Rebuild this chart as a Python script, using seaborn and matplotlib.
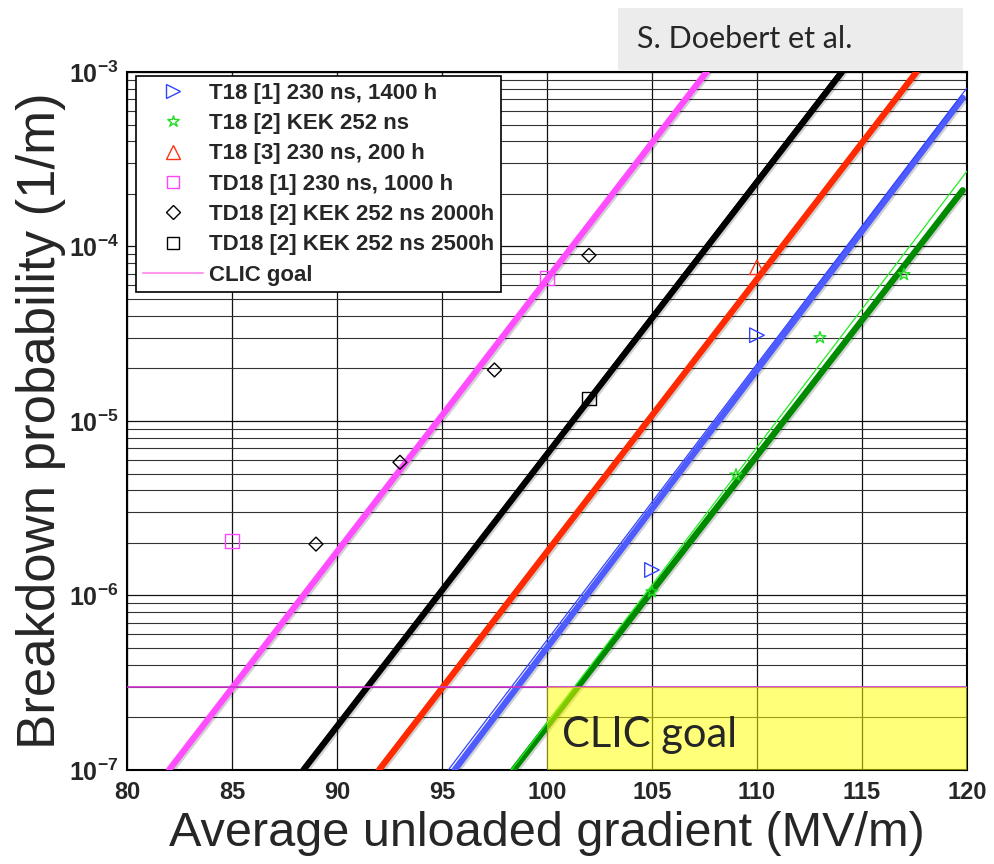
import numpy as np
import pandas as pd
import matplotlib.pyplot as plt
import matplotlib.patheffects as pe
from matplotlib.lines import Line2D
from matplotlib.patches import Rectangle
import seaborn as sns

# fitted lines (gradient in MV/m, breakdown probability in 1/m), end points
fit_g0 = [82.0, 88.4, 92.0, 95.6, 98.4]
fit_g1 = [107.6, 114.05, 117.6, 119.8, 119.8]
fit_p0 = [1e-7, 1e-7, 1e-7, 1e-7, 1e-7]
fit_p1 = [1e-3, 1e-3, 1e-3, 7.1e-4, 2.1e-4]
fit_colors = ['#ff4dff', '#000000', '#ff2a00', '#4d5bff', '#008a00']

# thin companion fits
thin_g0 = [88.3, 95.3, 98.3]
thin_g1 = [113.9, 120.0, 120.0]
thin_p1 = [1e-3, 8.1e-4, 2.7e-4]
thin_colors = ['#000000', '#3344ff', '#22ee22']

# measured points
t18_1_g = [105, 110]
t18_1_p = [1.4e-6, 3.1e-5]
t18_2_g = [105, 109, 113, 117]
t18_2_p = [1.05e-6, 4.9e-6, 3.0e-5, 6.9e-5]
t18_3_g = [110]
t18_3_p = [7.6e-5]
td18_1_g = [85, 100]
td18_1_p = [2.05e-6, 6.6e-5]
td18_2_g = [89, 93, 97.5, 102]
td18_2_p = [1.97e-6, 5.8e-6, 1.96e-5, 8.9e-5]
td18_2b_g = [102]
td18_2b_p = [1.35e-5]

clic_goal = 3e-7
clic_g = [100, 120]

labels = ['T18 [1] 230 ns, 1400 h', 'T18 [2] KEK 252 ns', 'T18 [3] 230 ns, 200 h',
          'TD18 [1] 230 ns, 1000 h', 'TD18 [2] KEK 252 ns 2000h',
          'TD18 [2] KEK 252 ns 2500h', 'CLIC goal']

sns.set_style('white')
plt.rcParams['font.family'] = ['Liberation Sans', 'DejaVu Sans']
plt.rcParams['mathtext.fontset'] = 'custom'
plt.rcParams['mathtext.bf'] = 'Liberation Sans:bold'
plt.rcParams['mathtext.rm'] = 'Liberation Sans'

fig = plt.figure(figsize=(9.95, 8.64), dpi=100)
ax = fig.add_axes([0.1276, 0.1088, 0.8442, 0.8079])
ax.set_yscale('log')
ax.set_xlim(80, 120)
ax.set_ylim(1e-7, 1e-3)

shadow = [pe.SimpleLineShadow(offset=(1.2, -1.2), alpha=0.18), pe.Normal()]
for g0, g1, p0, p1, c in zip(fit_g0, fit_g1, fit_p0, fit_p1, fit_colors):
    d = pd.DataFrame({'g': [g0, g1], 'p': [p0, p1]})
    sns.lineplot(data=d, x='g', y='p', color=c, lw=4.5, ax=ax, sort=False,
                 estimator=None, zorder=4, path_effects=shadow)
for g0, g1, p1, c in zip(thin_g0, thin_g1, thin_p1, thin_colors):
    d = pd.DataFrame({'g': [g0, g1], 'p': [1e-7, p1]})
    sns.lineplot(data=d, x='g', y='p', color=c, lw=0.9, ax=ax, sort=False,
                 estimator=None, zorder=4)

pts = [(t18_1_g, t18_1_p, '>', '#3344ff', 110),
       (t18_2_g, t18_2_p, '*', '#22dd22', 80),
       (t18_3_g, t18_3_p, '^', '#ff3311', 110),
       (td18_1_g, td18_1_p, 's', '#ff44ff', 90),
       (td18_2_g, td18_2_p, 'D', '#000000', 50),
       (td18_2b_g, td18_2b_p, 's', '#000000', 90)]
for g, p, m, c, s in pts:
    sns.scatterplot(x=g, y=p, marker=m, s=s, facecolor='none', edgecolor=c,
                    linewidth=1.0, ax=ax, zorder=5)

# CLIC goal line and target region
ax.axhline(clic_goal, color='#cc33cc', lw=1.2, zorder=6)
ax.add_patch(Rectangle((clic_g[0], 1e-7), clic_g[1] - clic_g[0], clic_goal - 1e-7,
                       facecolor='#ffff00', alpha=0.52, edgecolor='none', zorder=7))
ax.text(100.7, 1.35e-7, 'CLIC goal', fontsize=30, family='Lato', zorder=8)

# grid, MATLAB style
ax.set_xticks(np.arange(80, 121, 5))
ax.grid(True, which='major', color='#111111', lw=0.9)
ax.grid(True, which='minor', axis='y', color='#333333', lw=0.8)
ax.set_yticks([1e-7, 1e-6, 1e-5, 1e-4, 1e-3])
ax.set_yticklabels([r'$\mathbf{10^{%d}}$' % e for e in [-7, -6, -5, -4, -3]])
ax.tick_params(axis='x', which='both', direction='in', top=True, labelsize=17, pad=8)
ax.tick_params(axis='y', which='both', direction='in', right=True, labelsize=18, pad=6)
for lab in ax.get_xticklabels():
    lab.set_fontweight('bold')
for sp in ax.spines.values():
    sp.set_color('black')
    sp.set_linewidth(1.5)

ax.set_xlabel('Average unloaded gradient (MV/m)', fontsize=35, labelpad=5)
ax.set_ylabel('Breakdown probability (1/m)', fontsize=38, labelpad=2)

handles = [Line2D([], [], ls='', marker='>', ms=10, mfc='none', mec='#3344ff'),
           Line2D([], [], ls='', marker='*', ms=9, mfc='none', mec='#22dd22'),
           Line2D([], [], ls='', marker='^', ms=10, mfc='none', mec='#ff3311'),
           Line2D([], [], ls='', marker='s', ms=9, mfc='none', mec='#ff44ff'),
           Line2D([], [], ls='', marker='D', ms=7, mfc='none', mec='#000000'),
           Line2D([], [], ls='', marker='s', ms=9, mfc='none', mec='#000000'),
           Line2D([], [], color='#ff99ee', lw=1.5)]
leg = ax.legend(handles, labels, loc='upper left', bbox_to_anchor=(0.0107, 0.9943),
                borderaxespad=0, fancybox=False, framealpha=1, edgecolor='black',
                prop={'weight': 'bold', 'size': 16}, handlelength=2.7,
                handletextpad=0.3, labelspacing=0.42, borderpad=0.3)
leg.get_frame().set_linewidth(1.2)
leg.set_zorder(10)

fig.patches.append(Rectangle((618 / 995, (864 - 70) / 864), 345 / 995, 62 / 864,
                             transform=fig.transFigure, facecolor='#ececec',
                             edgecolor='none'))
fig.text(637 / 995, (864 - 39) / 864, 'S. Doebert et al.', fontsize=22,
         family='Lato', va='center', ha='left')

fig.savefig('out.png', dpi=100)
